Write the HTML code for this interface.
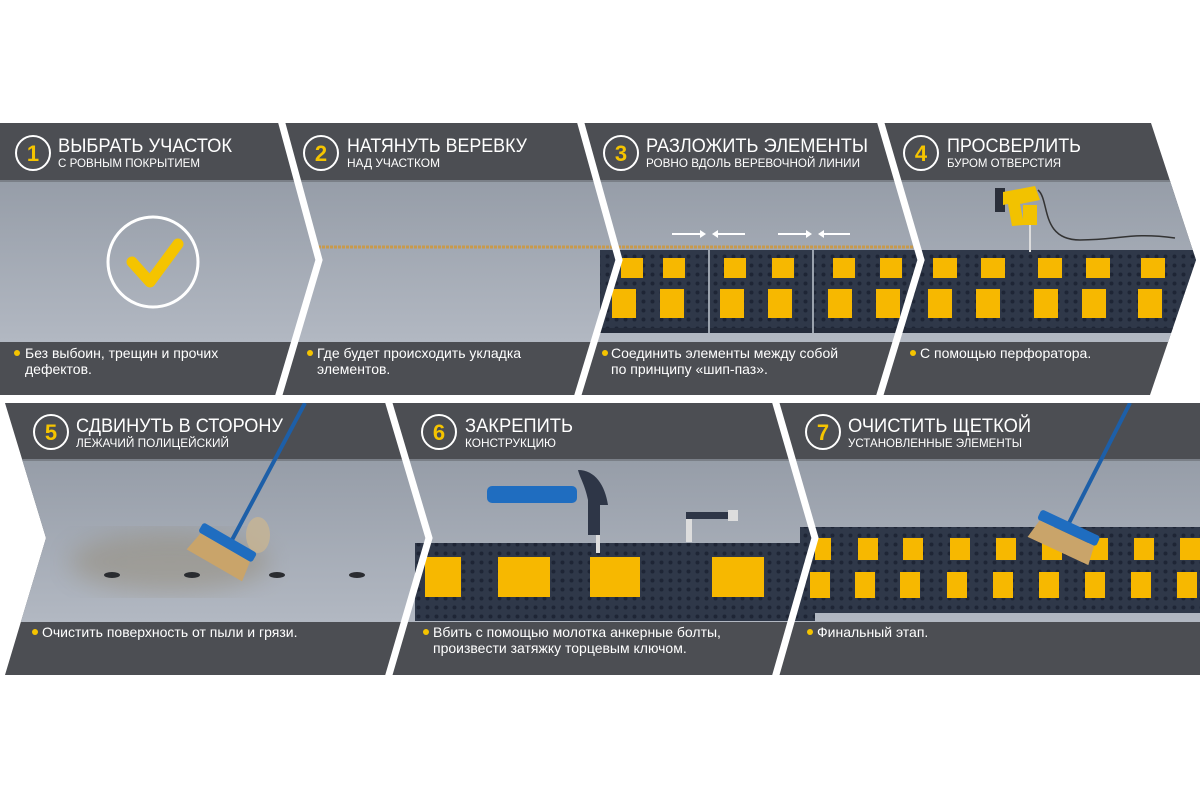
<!DOCTYPE html>
<html><head><meta charset="utf-8"><style>
html,body{margin:0;padding:0;background:#fff;width:1200px;height:800px;overflow:hidden}
svg{display:block}
.t{font-family:"Liberation Sans",sans-serif;fill:#fff}
.n{font-family:"Liberation Sans",sans-serif;font-weight:bold;fill:#f5c400;font-size:22px}
</style></head><body>
<svg width="1200" height="800" viewBox="0 0 1200 800" xmlns="http://www.w3.org/2000/svg">
<defs>
<linearGradient id="sc" x1="0" y1="0" x2="0" y2="1"><stop offset="0" stop-color="#969da8"/><stop offset="1" stop-color="#b2b8c2"/></linearGradient>
<pattern id="dots" width="9" height="9" patternUnits="userSpaceOnUse"><rect width="9" height="9" fill="#2f3849"/><circle cx="4.5" cy="4.5" r="2" fill="#1e2535"/></pattern>
<filter id="bl"><feGaussianBlur stdDeviation="12"/></filter>
<clipPath id="r1"><polygon points="0,123 1151,123 1196,260 1150,395 0,395"/></clipPath>
<clipPath id="r2"><polygon points="5,403 1200,403 1200,675 5,675 46,538"/></clipPath>
</defs>

<g clip-path="url(#r1)">
<rect x="0" y="123" width="1200" height="272" fill="#4c4e53"/>
<rect x="0" y="180" width="1200" height="162" fill="url(#sc)"/>
<rect x="0" y="180" width="1200" height="2" fill="#7a7f87"/>
<line x1="318" y1="247" x2="915" y2="247" stroke="#c79a4c" stroke-width="3" stroke-dasharray="3 1"/>
<rect x="600" y="250" width="600" height="82" fill="url(#dots)"/>
<rect x="600" y="328" width="600" height="5" fill="#242b3a"/>
<line x1="709" y1="250" x2="709" y2="333" stroke="#9aa2ad" stroke-width="2"/>
<line x1="813" y1="250" x2="813" y2="333" stroke="#9aa2ad" stroke-width="2"/>
<g fill="#f7b800">
<rect x="621" y="258" width="22" height="20"/><rect x="663" y="258" width="22" height="20"/><rect x="724" y="258" width="22" height="20"/><rect x="772" y="258" width="22" height="20"/><rect x="833" y="258" width="22" height="20"/><rect x="880" y="258" width="22" height="20"/>
<rect x="933" y="258" width="24" height="20"/><rect x="981" y="258" width="24" height="20"/><rect x="1038" y="258" width="24" height="20"/><rect x="1086" y="258" width="24" height="20"/><rect x="1141" y="258" width="24" height="20"/>
<rect x="612" y="289" width="24" height="29"/><rect x="660" y="289" width="24" height="29"/><rect x="720" y="289" width="24" height="29"/><rect x="768" y="289" width="24" height="29"/><rect x="828" y="289" width="24" height="29"/><rect x="876" y="289" width="24" height="29"/>
<rect x="928" y="289" width="24" height="29"/><rect x="976" y="289" width="24" height="29"/><rect x="1034" y="289" width="24" height="29"/><rect x="1082" y="289" width="24" height="29"/><rect x="1138" y="289" width="24" height="29"/>
</g>
<g stroke="#fff" stroke-width="2" fill="#fff">
<line x1="672" y1="234" x2="700" y2="234"/><polygon points="700,230 706,234 700,238" stroke="none"/>
<line x1="718" y1="234" x2="745" y2="234"/><polygon points="718,230 712,234 718,238" stroke="none"/>
<line x1="778" y1="234" x2="806" y2="234"/><polygon points="806,230 812,234 806,238" stroke="none"/>
<line x1="824" y1="234" x2="850" y2="234"/><polygon points="824,230 818,234 824,238" stroke="none"/>
</g>
<rect x="995" y="188" width="10" height="24" fill="#2a2f3a"/>
<path d="M1003,192 L1035,186 L1040,200 L1020,204 L1024,225 L1012,226 L1008,204 L1003,205 Z" fill="#f2c200"/>
<rect x="1023" y="205" width="14" height="20" fill="#f2c200"/>
<line x1="1030" y1="225" x2="1030" y2="252" stroke="#ddd" stroke-width="2"/>
<path d="M1038,190 C1050,200 1040,240 1080,240 C1120,240 1130,232 1175,238" fill="none" stroke="#333" stroke-width="1.5"/>
<circle cx="153" cy="262" r="45" fill="none" stroke="#fff" stroke-width="3"/>
<polyline points="132,262 150,282 178,244" fill="none" stroke="#f5c400" stroke-width="11" stroke-linecap="round" stroke-linejoin="round"/>
</g>
<g fill="none" stroke="#fff" stroke-width="7">
<polyline points="281,120 319,260 278,398"/>
<polyline points="580,120 619,260 577,398"/>
<polyline points="880,120 921,260 879,398"/>
</g>

<g clip-path="url(#r2)">
<rect x="0" y="403" width="1200" height="272" fill="#4c4e53"/>
<rect x="0" y="459" width="1200" height="163" fill="url(#sc)"/>
<rect x="0" y="459" width="1200" height="2" fill="#7a7f87"/>
<ellipse cx="170" cy="562" rx="100" ry="30" fill="#8a7a5a" opacity="0.35" filter="url(#bl)"/>
<g fill="#2a2c30"><ellipse cx="112" cy="575" rx="8" ry="3"/><ellipse cx="192" cy="575" rx="8" ry="3"/><ellipse cx="277" cy="575" rx="8" ry="3"/><ellipse cx="357" cy="575" rx="8" ry="3"/></g>
<ellipse cx="258" cy="535" rx="12" ry="18" fill="#cdb78f" opacity="0.7"/>
<line x1="305" y1="403" x2="232" y2="540" stroke="#1d5fa8" stroke-width="4"/>
<g transform="rotate(30 225 545)">
<rect x="195" y="536" width="62" height="11" rx="3" fill="#1f6dc0"/>
<path d="M198,547 L255,547 L258,568 L194,568 Z" fill="#c9a46a"/>
</g>
<rect x="415" y="543" width="400" height="78" fill="url(#dots)"/>
<g fill="#f7b800"><rect x="425" y="557" width="36" height="40"/><rect x="498" y="557" width="52" height="40"/><rect x="590" y="557" width="50" height="40"/><rect x="712" y="557" width="52" height="40"/></g>
<rect x="487" y="486" width="90" height="17" rx="5" fill="#1f6dc0"/>
<path d="M578,470 C595,470 605,485 608,505 L600,505 L600,535 L588,535 L588,500 C585,485 580,478 578,470 Z" fill="#2e3647"/>
<rect x="596" y="535" width="4" height="18" fill="#ddd"/>
<rect x="686" y="512" width="6" height="30" fill="#ddd"/>
<rect x="686" y="512" width="46" height="7" fill="#2e3647"/>
<rect x="728" y="510" width="10" height="11" fill="#ddd"/>
<rect x="800" y="527" width="400" height="86" fill="url(#dots)"/>
<g fill="#f7b800">
<rect x="815" y="538" width="16" height="22"/><rect x="858" y="538" width="20" height="22"/><rect x="903" y="538" width="20" height="22"/><rect x="950" y="538" width="20" height="22"/><rect x="996" y="538" width="20" height="22"/><rect x="1042" y="538" width="20" height="22"/><rect x="1088" y="538" width="20" height="22"/><rect x="1134" y="538" width="20" height="22"/><rect x="1180" y="538" width="20" height="22"/>
<rect x="810" y="572" width="20" height="26"/><rect x="855" y="572" width="20" height="26"/><rect x="900" y="572" width="20" height="26"/><rect x="947" y="572" width="20" height="26"/><rect x="993" y="572" width="20" height="26"/><rect x="1039" y="572" width="20" height="26"/><rect x="1085" y="572" width="20" height="26"/><rect x="1131" y="572" width="20" height="26"/><rect x="1177" y="572" width="20" height="26"/>
</g>
<line x1="1130" y1="403" x2="1068" y2="525" stroke="#1d5fa8" stroke-width="4"/>
<g transform="rotate(25 1065 530)">
<rect x="1035" y="521" width="65" height="11" rx="3" fill="#1f6dc0"/>
<path d="M1038,532 L1098,532 L1101,552 L1034,552 Z" fill="#c9a46a"/>
</g>
</g>
<g fill="none" stroke="#fff" stroke-width="7">
<polyline points="388,400 429,538 388,678"/>
<polyline points="775,400 815,538 775,678"/>
</g>

<g>
<circle cx="33" cy="153" r="17" fill="none" stroke="#fff" stroke-width="2"/><text class="n" x="33" y="161" text-anchor="middle">1</text>
<text class="t" x="58" y="152" font-size="19" textLength="174" lengthAdjust="spacingAndGlyphs">ВЫБРАТЬ УЧАСТОК</text>
<text class="t" x="58" y="167" font-size="12" textLength="142" lengthAdjust="spacingAndGlyphs">С РОВНЫМ ПОКРЫТИЕМ</text>
<circle cx="321" cy="153" r="17" fill="none" stroke="#fff" stroke-width="2"/><text class="n" x="321" y="161" text-anchor="middle">2</text>
<text class="t" x="347" y="152" font-size="19" textLength="180" lengthAdjust="spacingAndGlyphs">НАТЯНУТЬ ВЕРЕВКУ</text>
<text class="t" x="347" y="167" font-size="12" textLength="93" lengthAdjust="spacingAndGlyphs">НАД УЧАСТКОМ</text>
<circle cx="621" cy="153" r="17" fill="none" stroke="#fff" stroke-width="2"/><text class="n" x="621" y="161" text-anchor="middle">3</text>
<text class="t" x="646" y="152" font-size="19" textLength="222" lengthAdjust="spacingAndGlyphs">РАЗЛОЖИТЬ ЭЛЕМЕНТЫ</text>
<text class="t" x="646" y="167" font-size="12" textLength="214" lengthAdjust="spacingAndGlyphs">РОВНО ВДОЛЬ ВЕРЕВОЧНОЙ ЛИНИИ</text>
<circle cx="921" cy="153" r="17" fill="none" stroke="#fff" stroke-width="2"/><text class="n" x="921" y="161" text-anchor="middle">4</text>
<text class="t" x="947" y="152" font-size="19" textLength="134" lengthAdjust="spacingAndGlyphs">ПРОСВЕРЛИТЬ</text>
<text class="t" x="947" y="167" font-size="12" textLength="114" lengthAdjust="spacingAndGlyphs">БУРОМ ОТВЕРСТИЯ</text>
<circle cx="51" cy="432" r="17" fill="none" stroke="#fff" stroke-width="2"/><text class="n" x="51" y="440" text-anchor="middle">5</text>
<text class="t" x="76" y="432" font-size="19" textLength="207" lengthAdjust="spacingAndGlyphs">СДВИНУТЬ В СТОРОНУ</text>
<text class="t" x="76" y="447" font-size="12" textLength="153" lengthAdjust="spacingAndGlyphs">ЛЕЖАЧИЙ ПОЛИЦЕЙСКИЙ</text>
<circle cx="439" cy="432" r="17" fill="none" stroke="#fff" stroke-width="2"/><text class="n" x="439" y="440" text-anchor="middle">6</text>
<text class="t" x="465" y="432" font-size="19" textLength="108" lengthAdjust="spacingAndGlyphs">ЗАКРЕПИТЬ</text>
<text class="t" x="465" y="447" font-size="12" textLength="91" lengthAdjust="spacingAndGlyphs">КОНСТРУКЦИЮ</text>
<circle cx="823" cy="432" r="17" fill="none" stroke="#fff" stroke-width="2"/><text class="n" x="823" y="440" text-anchor="middle">7</text>
<text class="t" x="848" y="432" font-size="19" textLength="183" lengthAdjust="spacingAndGlyphs">ОЧИСТИТЬ ЩЕТКОЙ</text>
<text class="t" x="848" y="447" font-size="12" textLength="174" lengthAdjust="spacingAndGlyphs">УСТАНОВЛЕННЫЕ ЭЛЕМЕНТЫ</text>
</g>

<g fill="#f5c400"><circle cx="17" cy="353" r="3"/><circle cx="310" cy="353" r="3"/><circle cx="605" cy="353" r="3"/><circle cx="913" cy="353" r="3"/><circle cx="35" cy="632" r="3"/><circle cx="426" cy="632" r="3"/><circle cx="810" cy="632" r="3"/></g>
<g class="t" font-size="14">
<text x="25" y="358">Без выбоин, трещин и прочих</text><text x="25" y="374">дефектов.</text>
<text x="317" y="358">Где будет происходить укладка</text><text x="317" y="374">элементов.</text>
<text x="611" y="358">Соединить элементы между собой</text><text x="611" y="374">по принципу «шип-паз».</text>
<text x="920" y="358">С помощью перфоратора.</text>
<text x="42" y="637">Очистить поверхность от пыли и грязи.</text>
<text x="433" y="637">Вбить с помощью молотка анкерные болты,</text><text x="433" y="653">произвести затяжку торцевым ключом.</text>
<text x="817" y="637">Финальный этап.</text>
</g>
</svg>
</body></html>
